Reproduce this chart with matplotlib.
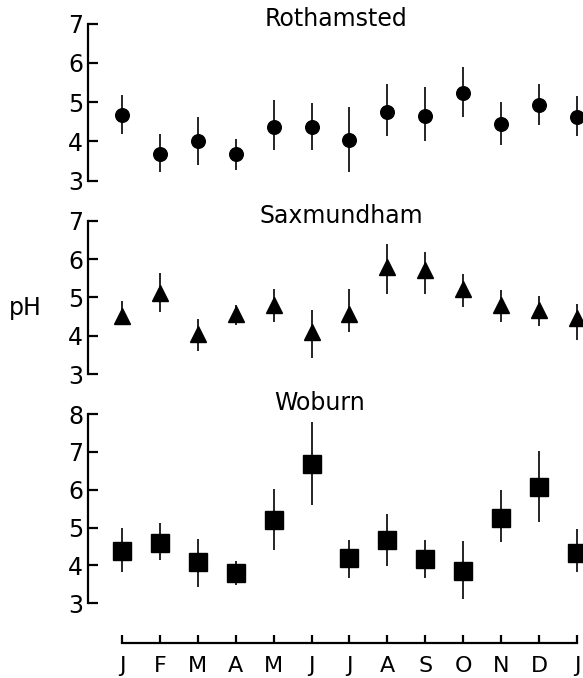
import matplotlib
matplotlib.use("Agg")
import matplotlib.pyplot as plt
import numpy as np

plt.rcParams['font.family'] = ['DejaVu Sans']

months = ['J', 'F', 'M', 'A', 'M', 'J', 'J', 'A', 'S', 'O', 'N', 'D', 'J']

roth_mean = [4.67, 3.69, 4.00, 3.69, 4.36, 4.36, 4.03, 4.74, 4.64, 5.23, 4.44, 4.92, 4.62]
roth_hi = [5.18, 4.18, 4.62, 4.05, 5.05, 4.97, 4.87, 5.46, 5.38, 5.90, 5.00, 5.46, 5.15]
roth_lo = [4.18, 3.23, 3.41, 3.26, 3.79, 3.79, 3.23, 4.13, 4.00, 4.62, 3.90, 4.41, 4.13]

sax_mean = [4.52, 5.12, 4.05, 4.57, 4.79, 4.09, 4.57, 5.79, 5.72, 5.21, 4.79, 4.68, 4.46]
sax_hi = [4.91, 5.63, 4.43, 4.81, 5.22, 4.67, 5.23, 6.39, 6.19, 5.61, 5.19, 5.04, 4.83]
sax_lo = [4.32, 4.63, 3.61, 4.29, 4.35, 3.43, 4.10, 5.10, 5.10, 4.74, 4.35, 4.26, 3.89]

wob_mean = [4.39, 4.58, 4.08, 3.79, 5.19, 6.69, 4.19, 4.67, 4.16, 3.86, 5.26, 6.07, 4.34]
wob_hi = [4.98, 5.11, 4.69, 4.13, 6.02, 7.78, 4.68, 5.37, 4.68, 4.65, 5.98, 7.01, 4.97]
wob_lo = [3.82, 4.14, 3.43, 3.49, 4.41, 5.59, 3.67, 3.98, 3.67, 3.12, 4.63, 5.15, 3.82]

W, H = 583, 678
fig = plt.figure(figsize=(W / 100, H / 100), dpi=100)

x = np.arange(len(months))
xl = (-0.895, 12.158)
left = 88 / W
width = 1 - left


def fy(px):
    return 1 - px / H


panels = [
    ("Rothamsted", roth_mean, roth_lo, roth_hi, 'o', 9.8, (3, 7), 180.7, 23.5, (336, 19.5)),
    ("Saxmundham", sax_mean, sax_lo, sax_hi, '^', 11, (3, 7), 374.0, 220.7, (341, 216)),
    ("Woburn", wob_mean, wob_lo, wob_hi, 's', 13, (3, 8), 603.3, 414.0, (320, 403.5)),
]

for name, m, lo, hi, mk, ms, yl, pb, pt, tpos in panels:
    ax = fig.add_axes([left, fy(pb), width, (pb - pt) / H])
    m = np.array(m); lo = np.array(lo); hi = np.array(hi)
    eb = ax.errorbar(x, m, yerr=[m - lo, hi - m], fmt=mk, color='black', ms=ms,
                     elinewidth=1.2, capsize=0, clip_on=False)
    for art in eb.get_children():
        art.set_clip_on(False)
    ax.set_xlim(*xl)
    ax.set_ylim(*yl)
    ax.set_yticks(np.arange(yl[0], yl[1] + 1))
    ax.set_xticks([])
    for s in ['top', 'right', 'bottom']:
        ax.spines[s].set_visible(False)
    ax.spines['left'].set_linewidth(1.6)
    ax.tick_params(axis='y', direction='in', length=7, width=1.6, pad=3.5, labelsize=17)
    ax.patch.set_visible(False)
    fig.text(tpos[0] / W, fy(tpos[1]), name, ha='center', va='center', fontsize=17)

fig.text(25 / W, fy(308), 'pH', ha='center', va='center', fontsize=17)

axm = fig.add_axes([left, fy(642.5), width, 0.01])
axm.set_xlim(*xl)
axm.set_ylim(0, 1)
for s in ['top', 'right', 'left']:
    axm.spines[s].set_visible(False)
axm.spines['bottom'].set_bounds(0, 12)
axm.spines['bottom'].set_linewidth(1.6)
axm.set_yticks([])
axm.set_xticks(x)
axm.set_xticklabels(months)
axm.tick_params(axis='x', direction='in', length=6, width=1.6, pad=10, labelsize=16)
axm.patch.set_visible(False)

fig.savefig('out.png', dpi=100)
